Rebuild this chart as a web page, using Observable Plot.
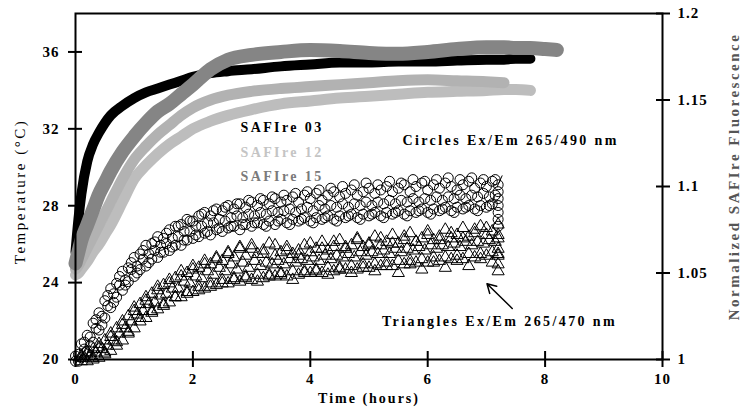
<!DOCTYPE html>
<html><head><meta charset="utf-8">
<script src="https://cdn.jsdelivr.net/npm/d3@7"></script>
<script src="https://cdn.jsdelivr.net/npm/@observablehq/plot@0.6"></script>
<style>body{margin:0;background:#fff} svg{display:block}</style>
</head><body><div id="chart"></div>
<script>
// ---------- Temperature (left axis, °C) ----------
const tempTime = [0,0.05,0.1,0.2,0.3,0.4,0.5,0.6,0.8,1.0,1.2,1.4,1.6,1.8,2.0,2.3,2.6,3.0,3.5,4.0,4.5,5.0,5.5,6.0,6.5,7.0,7.3,7.5,7.75,8.0,8.2];
const saf03  = [25.6,27.3,28.6,30.3,31.2,31.8,32.3,32.7,33.2,33.6,33.9,34.1,34.3,34.5,34.7,34.9,35.0,35.1,35.25,35.35,35.45,35.45,35.5,35.5,35.55,35.6,35.6,35.65,35.65,null,null];
const saf15  = [25.0,25.6,26.2,27.0,27.8,28.6,29.2,29.8,30.8,31.6,32.3,32.9,33.3,33.8,34.3,35.1,35.6,35.85,36.0,36.1,36.05,35.95,35.9,36.0,36.15,36.25,36.25,36.2,36.2,36.15,36.1];
const saf12a = [24.7,24.9,25.2,25.8,26.4,27.0,27.6,28.2,29.4,30.4,31.1,31.7,32.2,32.7,33.1,33.5,33.75,33.95,34.1,34.2,34.3,34.4,34.5,34.55,34.5,34.45,34.4,null,null,null,null];
const saf12b = [24.4,24.5,24.7,25.1,25.6,26.0,26.5,27.0,28.2,29.4,30.1,30.7,31.2,31.6,32.0,32.4,32.7,33.0,33.3,33.45,33.6,33.7,33.8,33.9,33.95,34.0,34.05,34.05,34.0,null,null];

// ---------- Fluorescence (right axis, normalized) ----------
const fluorTime = [0,0.1,0.2,0.3,0.4,0.5,0.6,0.7,0.8,0.9,1.0,1.1,1.2,1.3,1.4,1.5,1.6,1.7,1.8,1.9,2.0,2.1,2.2,2.3,2.4,2.5,2.6,2.7,2.8,2.9,3.0,3.1,3.2,3.3,3.4,3.5,3.6,3.7,3.8,3.9,4.0,4.1,4.2,4.3,4.4,4.5,4.6,4.7,4.8,4.9,5.0,5.1,5.2,5.3,5.4,5.5,5.6,5.7,5.8,5.9,6.0,6.1,6.2,6.3,6.4,6.5,6.6,6.7,6.8,6.9,7.0,7.1,7.2];
const fluorTimeMid = [0.05,0.15,0.25,0.35,0.45,0.55,0.65,0.75,0.85,0.95,1.05,1.15,1.25,1.35,1.45,1.55,1.65,1.75,1.85,1.95,2.05,2.15,2.25,2.35,2.45,2.55,2.65,2.75,2.85,2.95,3.05,3.15,3.25,3.35,3.45,3.55,3.65,3.75,3.85,3.95,4.05,4.15,4.25,4.35,4.45,4.55,4.65,4.75,4.85,4.95,5.05,5.15,5.25,5.35,5.45,5.55,5.65,5.75,5.85,5.95,6.05,6.15,6.25,6.35,6.45,6.55,6.65,6.75,6.85,6.95,7.05,7.15];
// circles, Ex/Em 265/490 nm
const circlesA = [1.002,1.009,1.014,1.021,1.027,1.034,1.041,1.044,1.051,1.053,1.059,1.061,1.066,1.067,1.071,1.070,1.075,1.077,1.078,1.081,1.080,1.083,1.085,1.083,1.087,1.086,1.089,1.087,1.090,1.088,1.091,1.089,1.092,1.090,1.093,1.091,1.092,1.094,1.091,1.095,1.093,1.096,1.092,1.095,1.097,1.094,1.096,1.098,1.095,1.097,1.099,1.096,1.098,1.100,1.097,1.099,1.101,1.097,1.100,1.102,1.098,1.101,1.099,1.102,1.100,1.098,1.101,1.103,1.099,1.102,1.100,1.103,1.101];
const circlesB = [0.999,1.001,1.005,1.010,1.017,1.024,1.030,1.036,1.040,1.045,1.048,1.052,1.054,1.058,1.059,1.062,1.063,1.066,1.066,1.069,1.070,1.071,1.073,1.072,1.075,1.074,1.076,1.077,1.075,1.078,1.077,1.079,1.078,1.080,1.078,1.081,1.079,1.081,1.080,1.082,1.080,1.082,1.081,1.083,1.081,1.083,1.082,1.084,1.082,1.084,1.083,1.085,1.083,1.085,1.084,1.086,1.084,1.086,1.085,1.087,1.085,1.087,1.086,1.088,1.086,1.088,1.087,1.089,1.087,1.089,1.088,1.090,1.089];
const circlesC = [1.003,1.006,1.013,1.018,1.025,1.031,1.038,1.043,1.046,1.052,1.054,1.058,1.061,1.063,1.066,1.067,1.070,1.071,1.074,1.074,1.077,1.077,1.079,1.079,1.081,1.080,1.082,1.083,1.082,1.084,1.083,1.085,1.084,1.086,1.085,1.086,1.087,1.085,1.087,1.088,1.086,1.089,1.087,1.089,1.088,1.090,1.088,1.090,1.089,1.091,1.089,1.091,1.090,1.092,1.090,1.092,1.091,1.093,1.091,1.093,1.092,1.094,1.092,1.094,1.093,1.095,1.093,1.095,1.094,1.096,1.094,1.095];
const circlesD = [0.999,1.010,1.008,1.023,1.020,1.037,1.033,1.048,1.043,1.056,1.050,1.063,1.056,1.068,1.062,1.073,1.065,1.077,1.069,1.080,1.072,1.084,1.074,1.086,1.076,1.088,1.077,1.090,1.078,1.092,1.079,1.093,1.077,1.094,1.080,1.095,1.078,1.096,1.081,1.097,1.079,1.098,1.082,1.099,1.080,1.100,1.083,1.101,1.081,1.102,1.084,1.101,1.082,1.103,1.085,1.102,1.083,1.104,1.086,1.103,1.084,1.104,1.087,1.105,1.085,1.104,1.088,1.105,1.086,1.104,1.089,1.104];
const circlesEnd = [1.077,1.081,1.085,1.093,1.097];
// triangles, Ex/Em 265/470 nm (start at 0.1 h)
const trianglesA = [1.002,1.004,1.006,1.009,1.011,1.015,1.018,1.022,1.025,1.030,1.032,1.036,1.038,1.042,1.043,1.046,1.047,1.051,1.050,1.054,1.053,1.057,1.055,1.059,1.057,1.062,1.059,1.064,1.060,1.066,1.061,1.063,1.067,1.060,1.062,1.065,1.061,1.063,1.066,1.062,1.064,1.068,1.063,1.065,1.069,1.064,1.066,1.070,1.065,1.067,1.071,1.066,1.068,1.072,1.067,1.069,1.073,1.068,1.070,1.074,1.069,1.071,1.075,1.070,1.072,1.076,1.071,1.073,1.077,1.072,1.074,1.078];
const trianglesB = [0.999,0.999,1.000,1.001,1.003,1.005,1.008,1.011,1.015,1.018,1.022,1.024,1.028,1.029,1.032,1.033,1.036,1.036,1.039,1.039,1.042,1.041,1.044,1.043,1.046,1.044,1.047,1.045,1.048,1.046,1.049,1.047,1.049,1.048,1.050,1.048,1.051,1.049,1.051,1.050,1.052,1.050,1.053,1.051,1.053,1.052,1.054,1.052,1.055,1.053,1.055,1.054,1.056,1.054,1.057,1.055,1.057,1.056,1.058,1.056,1.059,1.057,1.059,1.058,1.060,1.058,1.061,1.059,1.061,1.060,1.062,1.061];
const trianglesC = [1.001,1.002,1.004,1.006,1.008,1.011,1.015,1.018,1.022,1.026,1.028,1.032,1.033,1.037,1.038,1.041,1.041,1.045,1.044,1.048,1.047,1.051,1.049,1.053,1.051,1.055,1.052,1.056,1.053,1.057,1.054,1.056,1.055,1.057,1.055,1.058,1.056,1.058,1.057,1.059,1.057,1.060,1.058,1.060,1.059,1.061,1.059,1.062,1.060,1.062,1.061,1.063,1.061,1.064,1.062,1.064,1.063,1.065,1.063,1.066,1.064,1.066,1.065,1.067,1.065,1.068,1.066,1.068,1.067,1.069,1.068];
const trianglesD = [1.001,1.003,1.001,1.007,1.004,1.013,1.010,1.020,1.016,1.028,1.024,1.034,1.027,1.040,1.031,1.044,1.036,1.048,1.038,1.052,1.040,1.055,1.042,1.058,1.044,1.061,1.046,1.065,1.047,1.064,1.045,1.061,1.048,1.066,1.049,1.063,1.046,1.060,1.050,1.067,1.051,1.064,1.049,1.068,1.052,1.065,1.050,1.069,1.053,1.066,1.051,1.070,1.054,1.067,1.050,1.071,1.055,1.068,1.052,1.072,1.056,1.069,1.053,1.073,1.057,1.070,1.054,1.075,1.058,1.076,1.056,1.072];
const trianglesEnd = [1.051,1.055,1.060,1.064,1.070];
const endTime = 7.2;

// ---------- Axes, labels, annotations ----------
const xTicks = [0,2,4,6,8,10];
const leftTicks = [20,24,28,32,36];
const rightTicks = [1,1.05,1.1,1.15,1.2];
const rightTickLabels = ["1","1.05","1.1","1.15","1.2"];
const legendLabels = ["SAFIre 03","SAFIre 12","SAFIre 15"];
const legendColors = ["#000000","#c4c4c4","#7a7a7a"];
const legendX = [2.81,2.81,2.81];
const legendY = [32.07,30.77,29.52];
const annoLabels = ["Circles Ex/Em 265/490 nm","Triangles Ex/Em 265/470 nm"];
const annoX = [5.57,5.22];
const annoF = [1.1265,1.0220];
const circlePointer = [{t1:7.27,f1:1.1064,t2:7.18,f2:1.0996}];
const trianglePointer = [{t1:7.44,f1:1.0295,t2:7.01,f2:1.0438}];

// right axis 1..1.2 is drawn against the temperature scale 20..38
const toTemp = f => 20 + (f - 1) * 90;
const serie = (vals, name) => tempTime.map((t,i)=>({t, v: vals[i], s:name})).filter(d=>d.v!=null);
const circleRows = [
  ...fluorTime.map((t,i)=>({t, f: circlesA[i]})),
  ...fluorTime.map((t,i)=>({t, f: circlesB[i]})),
  ...fluorTimeMid.map((t,i)=>({t, f: circlesC[i]})),
  ...fluorTimeMid.map((t,i)=>({t, f: circlesD[i]})),
  ...circlesEnd.map(f=>({t:endTime, f}))
];
const triTime = fluorTime.slice(1), triTimeMid = fluorTimeMid.slice(1);
const triRows = [
  ...triTime.map((t,i)=>({t, f: trianglesA[i]})),
  ...triTime.map((t,i)=>({t, f: trianglesB[i]})),
  ...triTimeMid.map((t,i)=>({t, f: trianglesC[i]})),
  ...triTime.map((t,i)=>({t, f: trianglesD[i]})),
  ...trianglesEnd.map(f=>({t:endTime, f}))
];
const rightTicksT = rightTicks.map(toTemp);
const font = "'Liberation Serif','Times New Roman',serif";

const chart = Plot.plot({
  width: 743, height: 410,
  marginLeft: 75, marginRight: 81, marginTop: 13, marginBottom: 51,
  style: {fontFamily: font, background: "#fff", color: "#000"},
  x: {domain: [0, 10]},
  y: {domain: [20, 38]},
  color: {type: "identity"},
  marks: [
    Plot.line(serie(saf12b,"12b"), {x:"t", y:"v", stroke:"#bdbdbd", strokeWidth:11, curve:"monotone-x"}),
    Plot.line(serie(saf12a,"12a"), {x:"t", y:"v", stroke:"#b2b2b2", strokeWidth:11, curve:"monotone-x"}),
    Plot.line(serie(saf03,"03"), {x:"t", y:"v", stroke:"#000", strokeWidth:10, curve:"monotone-x"}),
    Plot.line(serie(saf15,"15"), {x:"t", y:"v", stroke:"#858585", strokeWidth:14, curve:"monotone-x"}),
    Plot.dot(circleRows, {x:"t", y:d=>toTemp(d.f), r:5, fill:"none", stroke:"#000", strokeWidth:1}),
    Plot.dot(triRows, {x:"t", y:d=>toTemp(d.f), symbol:"triangle", r:4.5, fill:"none", stroke:"#000", strokeWidth:1}),
    Plot.link(circlePointer, {x1:"t1", y1:d=>toTemp(d.f1), x2:"t2", y2:d=>toTemp(d.f2), stroke:"#000", strokeWidth:1}),
    Plot.arrow(trianglePointer, {x1:"t1", y1:d=>toTemp(d.f1), x2:"t2", y2:d=>toTemp(d.f2), stroke:"#000", strokeWidth:1.5, headLength:10}),
    Plot.text(legendLabels, {x:legendX, y:legendY, text:d=>d, fill:legendColors, textAnchor:"start", fontSize:14, fontWeight:"bold"}),
    Plot.text(annoLabels, {x:annoX, y:annoF.map(toTemp), text:d=>d, fill:"#000", textAnchor:"start", fontSize:14, fontWeight:"bold"}),
    Plot.frame({stroke:"#000", strokeWidth:2}),
    Plot.axisY({anchor:"left", ticks:leftTicks, tickSize:7, tickPadding:9, label:null, fontSize:15, fontWeight:"bold", strokeWidth:2}),
    Plot.axisY({anchor:"left", ticks:leftTicks, tickSize:-7, text:null, label:null, strokeWidth:2}),
    Plot.axisY({anchor:"right", ticks:rightTicksT, tickFormat:d=>rightTickLabels[rightTicksT.indexOf(d)], tickSize:7, tickPadding:8, label:null, fontSize:15, fontWeight:"bold", strokeWidth:2}),
    Plot.axisY({anchor:"right", ticks:rightTicksT, tickSize:-7, text:null, label:null, strokeWidth:2}),
    Plot.axisX({anchor:"bottom", ticks:xTicks, tickSize:8, tickPadding:6, label:null, fontSize:15, fontWeight:"bold", strokeWidth:2}),
    Plot.axisX({anchor:"bottom", ticks:xTicks, tickSize:-8, text:null, label:null, strokeWidth:2}),
    Plot.text(["Time (hours)"], {frameAnchor:"bottom", textAnchor:"middle", dy:43, fontSize:14, fontWeight:"bold"}),
    Plot.text(["Temperature (°C)"], {frameAnchor:"left", textAnchor:"middle", dx:-55, dy:5, rotate:-90, fontSize:15}),
    Plot.text(["Normalized SAFIre Fluorescence"], {frameAnchor:"right", textAnchor:"middle", dx:72, dy:-10, rotate:-90, fontSize:15, fontWeight:"bold", fill:"#555"})
  ]
});
document.getElementById("chart").appendChild(chart);

// letter spacing resembling the original typesetting
const spacing = new Map([
  ...legendLabels.map(s=>[s,"2.4px"]),
  ...annoLabels.map(s=>[s,"2.4px"]),
  ["Time (hours)","2px"],
  ["Temperature (°C)","2.5px"],
  ["Normalized SAFIre Fluorescence","2.5px"]
]);
d3.select(chart).selectAll("text").each(function(){
  const s = this.textContent;
  if (spacing.has(s)) this.style.letterSpacing = spacing.get(s);
  else if (/^[0-9.]+$/.test(s)) this.style.letterSpacing = "1px";
});
</script>
</body></html>
